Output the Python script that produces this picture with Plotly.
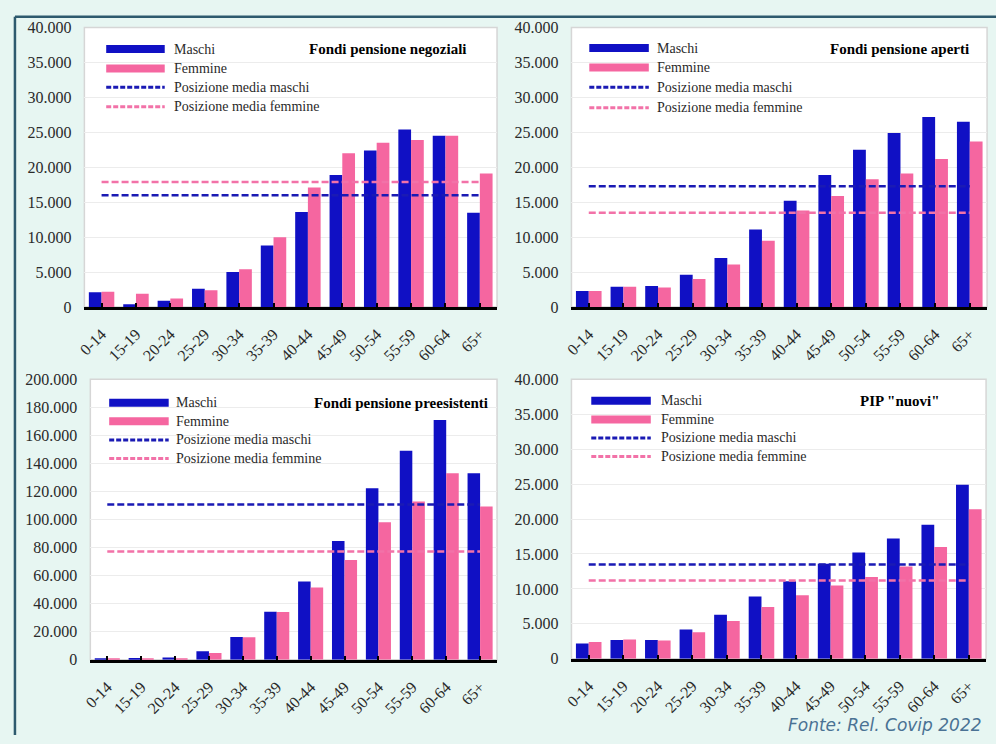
import plotly.graph_objects as go

W, H = 996, 744

categories = ["0-14", "15-19", "20-24", "25-29", "30-34", "35-39",
              "40-44", "45-49", "50-54", "55-59", "60-64", "65+"]

# Fondi pensione negoziali
neg_maschi = [2100, 400, 900, 2600, 5000, 8800, 13600, 18900, 22400, 25400, 24500, 13500]
neg_femmine = [2200, 1900, 1200, 2400, 5400, 10000, 17100, 22000, 23500, 23900, 24500, 19100]
neg_media_m = 16000
neg_media_f = 17900

# Fondi pensione aperti
ape_maschi = [2300, 2900, 3000, 4600, 7000, 11100, 15200, 18900, 22500, 24900, 27200, 26500]
ape_femmine = [2300, 2900, 2800, 4000, 6100, 9500, 13800, 15900, 18300, 19100, 21200, 23700]
ape_media_m = 17300
ape_media_f = 13500

# Fondi pensione preesistenti
pre_maschi = [700, 1200, 1600, 6000, 16300, 34200, 55800, 84700, 122300, 149100, 170900, 133000]
pre_femmine = [500, 700, 900, 4900, 16000, 34000, 51600, 71200, 98100, 112800, 133000, 109300]
pre_media_m = 110700
pre_media_f = 77200

# PIP "nuovi"
pip_maschi = [2200, 2700, 2700, 4200, 6300, 8900, 11100, 13600, 15200, 17200, 19200, 24900]
pip_femmine = [2400, 2750, 2600, 3800, 5400, 7400, 9100, 10500, 11700, 13200, 16000, 21400]
pip_media_m = 13500
pip_media_f = 11200

legend_labels = ["Maschi", "Femmine", "Posizione media maschi", "Posizione media femmine"]
panel_titles = ["Fondi pensione negoziali", "Fondi pensione aperti",
                "Fondi pensione preesistenti", 'PIP "nuovi"']
y_max = [40000, 40000, 200000, 40000]
y_step = [5000, 5000, 20000, 5000]
source_text = "Fonte: Rel. Covip 2022"

BLUE = "#1010c4"
PINK = "#f566a0"
BLUE_D = "#1a1ab4"
PINK_D = "#f272a8"
SERIF = "Liberation Serif"
TXT = "#2a2a2a"

# pixel boxes of each plot area: (left, right, top, bottom)
boxes = [(77, 493, 20, 306), (568, 987, 20, 306), (83, 493, 380, 667), (568, 986, 380, 666)]
# legend geometry in pixels: swatch x0, x1, text x, row ys, title right x, title y
leg = [
    (99, 158, 165, [42, 62, 81, 101], 465, 42),
    (586, 646, 652, [41, 61, 81, 102], 971, 42),
    (102, 162, 167, [404, 423, 442, 461], 486, 404),
    (588, 648, 656, [402, 421, 440, 459], 942, 402),
]

panels = [
    (neg_maschi, neg_femmine, neg_media_m, neg_media_f),
    (ape_maschi, ape_femmine, ape_media_m, ape_media_f),
    (pre_maschi, pre_femmine, pre_media_m, pre_media_f),
    (pip_maschi, pip_femmine, pip_media_m, pip_media_f),
]

fig = go.Figure()
shapes = []
annotations = []

for i, (m, f, mm, mf) in enumerate(panels):
    sfx = "" if i == 0 else str(i + 1)
    xa, ya = "x" + sfx, "y" + sfx
    fig.add_trace(go.Bar(x=categories, y=m, name=legend_labels[0], marker_color=BLUE,
                         marker_line_width=0, xaxis=xa, yaxis=ya, showlegend=False))
    fig.add_trace(go.Bar(x=categories, y=f, name=legend_labels[1], marker_color=PINK,
                         marker_line_width=0, xaxis=xa, yaxis=ya, showlegend=False))
    fig.add_trace(go.Scatter(x=[categories[0], categories[-1]], y=[mm, mm], mode="lines",
                             name=legend_labels[2], line=dict(color=BLUE_D, width=2.5, dash="7px,3px"),
                             xaxis=xa, yaxis=ya, showlegend=False, hoverinfo="skip"))
    fig.add_trace(go.Scatter(x=[categories[0], categories[-1]], y=[mf, mf], mode="lines",
                             name=legend_labels[3], line=dict(color=PINK_D, width=2.5, dash="7px,3px"),
                             xaxis=xa, yaxis=ya, showlegend=False, hoverinfo="skip"))

    l, r, t, b = boxes[i]
    fig.layout["xaxis" + sfx] = dict(
        domain=[l / W, r / W], anchor=ya, type="category",
        range=[-0.5, len(categories) - 0.5],
        showline=True, linecolor="black", linewidth=2.5,
        ticks="inside", ticklen=4, tickwidth=2, tickcolor="black",
        tickangle=-45, ticklabelstandoff=9,
        tickfont=dict(family=SERIF, size=16, color=TXT),
        showgrid=False, zeroline=False, fixedrange=True,
    )
    fig.layout["yaxis" + sfx] = dict(
        domain=[1 - b / H, 1 - t / H], anchor=xa,
        range=[0, y_max[i]], dtick=y_step[i], tickformat=",d",
        showline=False, ticks="", ticklabelstandoff=12,
        tickfont=dict(family=SERIF, size=16, color=TXT),
        showgrid=True, gridcolor="#ececec", gridwidth=1,
        zeroline=False, fixedrange=True,
    )

    # light plot border
    shapes.append(dict(type="rect", xref=xa + " domain", yref=ya + " domain",
                       x0=0, x1=1, y0=0, y1=1, line=dict(color="#d6d6d6", width=1.5),
                       layer="below"))

    # manual legend
    sx0, sx1, tx, rows, trx, ty = leg[i]
    def dx(px):
        return (px - l) / (r - l)
    def dy(py):
        return (b - py) / (b - t)
    styles = [dict(color=BLUE, width=8), dict(color=PINK, width=8),
              dict(color=BLUE_D, width=3, dash="5px,2px"), dict(color=PINK_D, width=3, dash="5px,2px")]
    for k in range(4):
        shapes.append(dict(type="line", xref=xa + " domain", yref=ya + " domain",
                           x0=dx(sx0), x1=dx(sx1), y0=dy(rows[k]), y1=dy(rows[k]),
                           line=styles[k]))
        annotations.append(dict(xref=xa + " domain", yref=ya + " domain",
                                x=dx(tx), y=dy(rows[k]), xanchor="left", yanchor="middle",
                                text=legend_labels[k], showarrow=False,
                                font=dict(family=SERIF, size=14, color=TXT)))
    annotations.append(dict(xref=xa + " domain", yref=ya + " domain",
                            x=dx(trx), y=dy(ty), xanchor="right", yanchor="middle",
                            text="<b>" + panel_titles[i] + "</b>", showarrow=False,
                            font=dict(family=SERIF, size=15, color="black")))

# outer frame (top and left border)
shapes.append(dict(type="line", xref="paper", yref="paper", x0=7 / W, x1=1, y0=1 - 9 / H, y1=1 - 9 / H,
                   line=dict(color="#2e5a6e", width=2.5)))
shapes.append(dict(type="line", xref="paper", yref="paper", x0=7 / W, x1=7 / W, y0=0, y1=1 - 9 / H,
                   line=dict(color="#2e5a6e", width=2.5)))

annotations.append(dict(xref="paper", yref="paper", x=984 / W, y=1 - 734 / H,
                        xanchor="right", yanchor="middle", text="<i>" + source_text + "</i>",
                        showarrow=False, font=dict(family="DejaVu Sans", size=17, color="#4a7294")))

fig.update_layout(
    width=W, height=H, margin=dict(l=0, r=0, t=0, b=0),
    paper_bgcolor="#e7f6f2", plot_bgcolor="white",
    barmode="group", bargap=0.26, bargroupgap=0,
    separators=",.", shapes=shapes, annotations=annotations,
    showlegend=False,
)

fig.write_html("out.html", config={"displayModeBar": False},
               post_script="document.body.style.margin='0';document.body.style.overflow='hidden';")
